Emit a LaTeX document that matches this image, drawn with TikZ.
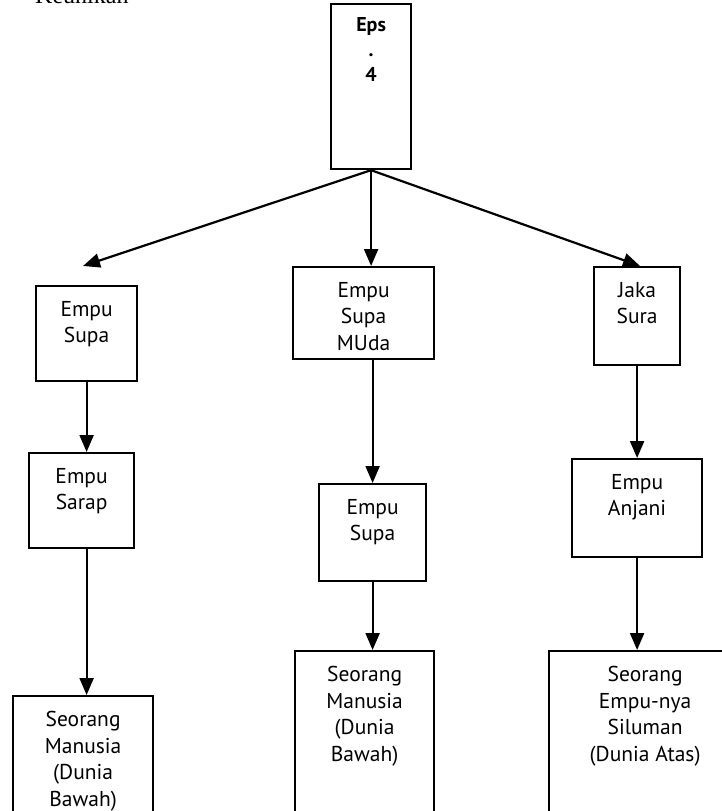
\documentclass[tikz,border=0pt]{standalone}
\usepackage{fontspec}
\newfontfamily\kotakfont{PT Sans}
\newfontfamily\judulfont{Liberation Serif}
\usetikzlibrary{arrows.meta,positioning}

\begin{document}
\begin{tikzpicture}[x=1pt, y=-1pt,
    font=\kotakfont\fontsize{21.5}{26.5}\selectfont,
    kotak/.style={draw, line width=2.2pt, anchor=north west, inner sep=0pt},
    isi/.style={anchor=north, align=center, inner sep=0pt, yshift=-16pt},
    panah/.style={line width=2.2pt, -{Triangle[length=17pt,width=14pt]}},
    ]
\clip (0,0) rectangle (722,811);

% judul yang terpotong di atas
\node[font=\judulfont\fontsize{24}{28}\selectfont, anchor=base west, inner sep=0pt] (judul) at (35,3) {Keunikan};

\node[kotak, minimum width=80pt, minimum height=165pt,
      label={[isi, yshift=2pt, font=\kotakfont\bfseries\fontsize{20}{25}\selectfont]north:Eps\\.\\4}] (eps) at (330,3) {};

% kolom kiri
\node[kotak, minimum width=101pt, minimum height=95pt, label={[isi]north:Empu\\Supa}] (supa1) at (35,285) {};
\node[kotak, minimum width=105pt, minimum height=95pt, label={[isi]north:Empu\\Sarap}] (sarap) at (28,452) {};
\node[kotak, minimum width=140pt, minimum height=140pt, label={[isi]north:Seorang\\Manusia\\(Dunia\\Bawah)}] (manusia1) at (12,695) {};

% kolom tengah
\node[kotak, minimum width=141pt, minimum height=92pt, label={[isi]north:Empu\\Supa\\MUda}] (muda) at (292,266) {};
\node[kotak, minimum width=107pt, minimum height=97pt, label={[isi]north:Empu\\Supa}] (supa2) at (318,483) {};
\node[kotak, minimum width=139pt, minimum height=180pt, label={[isi]north:Seorang\\Manusia\\(Dunia\\Bawah)}] (manusia2) at (294,650) {};

% kolom kanan
\node[kotak, minimum width=86pt, minimum height=98pt, label={[isi]north:Jaka\\Sura}] (jaka) at (593,266) {};
\node[kotak, minimum width=130pt, minimum height=98pt, label={[isi]north:Empu\\Anjani}] (anjani) at (571,458) {};
\node[kotak, minimum width=192pt, minimum height=180pt, label={[isi]north:Seorang\\Empu-nya\\Siluman\\(Dunia Atas)}] (siluman) at (548,650) {};

\coordinate (ujungkiri) at (83,266);
\coordinate (ujungkanan) at (640,266);

\draw[panah] (eps.south) -- (ujungkiri);
\draw[panah] (eps.south) -- (eps.south |- muda.north);
\draw[panah] (eps.south) -- (ujungkanan);

\draw[panah] (supa1.south) -- (supa1.south |- sarap.north);
\draw[panah] (sarap.south -| supa1.south) -- (supa1.south |- manusia1.north);

\draw[panah] (supa2.north |- muda.south) -- (supa2.north);
\draw[panah] (supa2.south) -- (supa2.south |- manusia2.north);

\draw[panah] (jaka.south) -- (jaka.south |- anjani.north);
\draw[panah] (anjani.south -| jaka.south) -- (jaka.south |- siluman.north);
\end{tikzpicture}
\end{document}
